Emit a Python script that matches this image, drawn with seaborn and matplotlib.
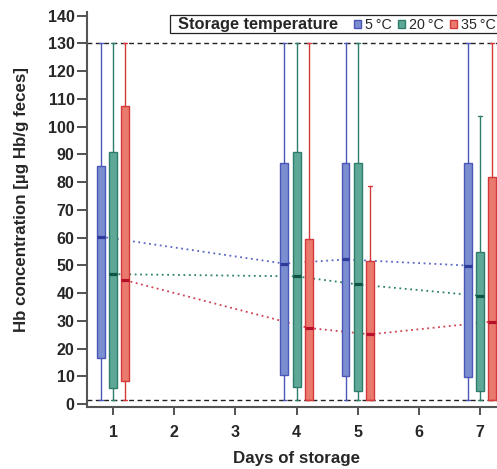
import numpy as np
import pandas as pd
import matplotlib
matplotlib.use("Agg")
import matplotlib.pyplot as plt
from matplotlib.patches import Patch
from matplotlib.offsetbox import DrawingArea
import seaborn as sns

# ---- data -------------------------------------------------------------
days = [1, 4, 5, 7]
temps = ["5\u2009°C", "20\u2009°C", "35\u2009°C"]

# box-plot summaries per storage temperature (µg Hb/g feces)
lo_5 = [1.4, 1.4, 1.4, 1.4]
q1_5 = [16.5, 10.5, 10.1, 9.8]
med_5 = [60.3, 50.6, 52.1, 49.9]
q3_5 = [85.9, 86.8, 86.8, 86.8]
hi_5 = [130, 130, 130, 130]

lo_20 = [1.4, 1.4, 1.4, 1.4]
q1_20 = [5.6, 6.0, 4.8, 4.8]
med_20 = [46.8, 46.0, 43.1, 39.0]
q3_20 = [90.7, 90.7, 86.8, 54.7]
hi_20 = [130, 130, 130, 103.8]

lo_35 = [1.4, 1.4, 1.4, 1.4]
q1_35 = [8.2, 1.4, 1.4, 1.4]
med_35 = [44.6, 27.4, 25.1, 29.7]
q3_35 = [107.5, 59.3, 51.4, 81.9]
hi_35 = [130, 130, 78.7, 130]

upper_limit = 130     # upper limit of quantification
lower_limit = 1.4     # limit of detection

yticks = list(range(0, 141, 10))
xticks = [1, 2, 3, 4, 5, 6, 7]

# ---- style ------------------------------------------------------------
sns.set_theme(style="ticks")
plt.rcParams["font.family"] = ["Liberation Sans", "DejaVu Sans"]

fills = ["#7b8ed0", "#5fa898", "#ea7a6e"]
edges = ["#4b56b8", "#2e7d6b", "#d43838"]
medcols = ["#2f3a9a", "#0f5545", "#b8102a"]
linecols = ["#5a66c4", "#2f8070", "#d04050"]
offsets = [-0.2, 0.0, 0.2]
box_w = 0.13

fig = plt.figure(figsize=(4.97, 4.69), dpi=100)
ax = fig.add_axes([87 / 497, 62 / 469, 423 / 497, 395.3 / 469])

stats_by_temp = [
    (lo_5, q1_5, med_5, q3_5, hi_5),
    (lo_20, q1_20, med_20, q3_20, hi_20),
    (lo_35, q1_35, med_35, q3_35, hi_35),
]

# dotted median trend lines (behind boxes)
trend = pd.DataFrame({
    "pos": [d + offsets[i] for i in range(3) for d in days],
    "median": [m for s in stats_by_temp for m in s[2]],
    "temp": [t for t in temps for _ in days],
})
sns.lineplot(data=trend, x="pos", y="median", hue="temp", hue_order=temps,
             palette=linecols, linestyle=(0, (1, 2)), linewidth=1.3,
             legend=False, ax=ax, zorder=1.5)

# reference limits
ax.axhline(upper_limit, color="#222222", lw=1.0, ls=(0, (3.5, 2.5)), zorder=1)
ax.axhline(lower_limit, color="#222222", lw=1.0, ls=(0, (3.5, 2.5)), zorder=1)

# box plots
for i, (lo, q1, med, q3, hi) in enumerate(stats_by_temp):
    bstats = [dict(whislo=lo[k], q1=q1[k], med=med[k], q3=q3[k], whishi=hi[k],
                   fliers=[]) for k in range(len(days))]
    ax.bxp(bstats, positions=[d + offsets[i] for d in days], widths=box_w,
           patch_artist=True, showfliers=False, manage_ticks=False,
           capwidths=0.06,
           boxprops=dict(facecolor=fills[i], edgecolor=edges[i], linewidth=1.0),
           whiskerprops=dict(color=edges[i], linewidth=1.0),
           capprops=dict(color=edges[i], linewidth=1.0),
           medianprops=dict(color=medcols[i], linewidth=2.3, solid_capstyle="butt"),
           zorder=3)

# ---- axes -------------------------------------------------------------
ax.set_xlim(0.574, 7.489)
ax.set_ylim(-1.08, 141.39)
ax.set_xticks(xticks)
ax.set_yticks(yticks)
ax.set_xticklabels([str(t) for t in xticks], fontweight="bold", fontsize=11.5)
ax.set_yticklabels([str(t) for t in yticks], fontweight="bold", fontsize=11.5)
ax.tick_params(axis="both", direction="out", width=1.3, color="#444444")
ax.tick_params(axis="x", length=6, pad=7)
ax.tick_params(axis="y", length=7.5, pad=1.5)
for side in ["top", "right"]:
    ax.spines[side].set_visible(False)
for side in ["left", "bottom"]:
    ax.spines[side].set_color("#555555")
    ax.spines[side].set_linewidth(1.5)

ax.set_xlabel("Days of storage", fontweight="bold", fontsize=12.2)
ax.set_ylabel("Hb concentration [µg Hb/g feces]", fontweight="bold", fontsize=12.2)
ax.xaxis.set_label_coords((296.5 - 87) / 423, -(451 - 407) / 395.3)
ax.yaxis.set_label_coords((29 - 87) / 423, (407 - 200) / 395.3)

# ---- legend: title on the same row as the entries --------------------
handles = [Patch(facecolor=fills[i], edgecolor=edges[i], linewidth=1.0)
           for i in range(3)]
leg = ax.legend(handles, temps, title="Storage temperature", ncol=3,
                loc="upper left", bbox_to_anchor=(170 / 497, 1 - 15 / 469),
                bbox_transform=fig.transFigure, borderaxespad=0,
                fontsize=10.3, handlelength=0.48, handleheight=0.48,
                handletextpad=0.33, columnspacing=0.4, borderpad=0.12,
                frameon=True, fancybox=False, framealpha=1,
                edgecolor="#222222")
leg.get_frame().set_linewidth(0.9)
leg.get_title().set_fontweight("bold")
leg.get_title().set_fontsize(11.8)
vp = leg.get_children()[0]
title_box, handle_box = vp.get_children()
vp._children = [handle_box]
handle_box._children = ([DrawingArea(0.5, 1), title_box, DrawingArea(3, 1)]
                        + handle_box.get_children())

fig.savefig("out.png", dpi=100)
